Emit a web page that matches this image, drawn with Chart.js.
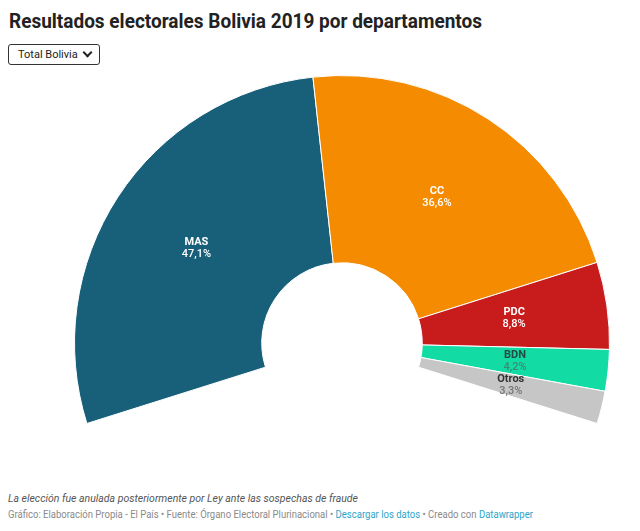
<!DOCTYPE html>
<html>
<head>
<meta charset="utf-8">
<script src="https://cdn.jsdelivr.net/npm/chart.js@4"></script>
<style>
  html, body { margin: 0; padding: 0; background: #fff; }
  body { width: 640px; height: 531px; position: relative; overflow: hidden; font-family: Roboto, "Noto Sans", sans-serif; }
  #title { position: absolute; left: 9px; top: 9px; font-size: 20px; font-weight: bold; color: #222; white-space: nowrap; transform-origin: 0 0; }
  #drop { position: absolute; left: 8px; top: 44px; width: 90px; height: 19px; border: 1.6px solid #333; border-radius: 3px; background: #fff; }
  #drop span { position: absolute; left: 9px; top: 3px; font-size: 11px; color: #222; white-space: nowrap; }
  #drop i { position: absolute; right: 8px; top: 4px; width: 5px; height: 5px; border-right: 2px solid #222; border-bottom: 2px solid #222; transform: rotate(45deg); }
  #chartWrap { position: absolute; left: 74px; top: 75px; width: 536px; height: 349px; }
  .foot { position: absolute; left: 8px; white-space: nowrap; transform-origin: 0 0; }
  #note { top: 492px; font-size: 10.5px; font-style: italic; color: #555; }
  #src { top: 509px; font-size: 10px; color: #8a8a8a; }
  #src a { color: #2ba6cb; text-decoration: none; }
</style>
</head>
<body>
<div id="title">Resultados electorales Bolivia 2019 por departamentos</div>
<div id="drop"><span>Total Bolivia</span><i></i></div>
<div id="chartWrap"><canvas id="c" width="536" height="349"></canvas></div>
<div class="foot" id="note">La elección fue anulada posteriormente por Ley ante las sospechas de fraude</div>
<div class="foot" id="src">Gráfico: Elaboración Propia - El País • Fuente: Órgano Electoral Plurinacional • <a>Descargar los datos</a> • Creado con <a>Datawrapper</a></div>
<script>
const parties = ["MAS", "CC", "PDC", "BDN", "Otros"];
const percents = [47.1, 36.6, 8.8, 4.2, 3.3];
const percentLabels = ["47,1%", "36,6%", "8,8%", "4,2%", "3,3%"];
const colors = ["#185f7a", "#f58b00", "#c81b1c", "#13dba4", "#c6c6c6"];
const nameColors = ["#ffffff", "#ffffff", "#ffffff", "#244a44", "#333333"];
const valueColors = ["#ffffff", "#ffffff", "#ffffff", "#3e8a74", "#777777"];

function fit(id, w) {
  const el = document.getElementById(id);
  const cur = el.getBoundingClientRect().width;
  el.style.transform = 'scaleX(' + (w / cur) + ')';
}
fit('title', 473);
fit('note', 350);
fit('src', 525);

const labelPlugin = {
  id: 'arcLabels',
  afterDatasetsDraw(chart) {
    const ctx = chart.ctx;
    const meta = chart.getDatasetMeta(0);
    meta.data.forEach((arc, i) => {
      const p = arc.getProps(['x', 'y', 'startAngle', 'endAngle', 'innerRadius', 'outerRadius'], true);
      const mid = (p.startAngle + p.endAngle) / 2;
      const r = (p.innerRadius + p.outerRadius) / 2;
      const x = p.x + Math.cos(mid) * r;
      const y = p.y + Math.sin(mid) * r;
      ctx.save();
      ctx.textAlign = 'center';
      ctx.textBaseline = 'middle';
      ctx.font = 'bold 11px Roboto';
      ctx.fillStyle = nameColors[i];
      ctx.fillText(parties[i], x, y - 6);
      ctx.font = '500 11px Roboto';
      ctx.fillStyle = valueColors[i];
      ctx.fillText(percentLabels[i], x, y + 6);
      ctx.restore();
    });
  }
};

new Chart(document.getElementById('c'), {
  type: 'doughnut',
  data: {
    labels: parties,
    datasets: [{
      data: percents,
      backgroundColor: colors,
      borderColor: '#ffffff',
      borderWidth: 1
    }]
  },
  options: {
    responsive: false,
    animation: false,
    rotation: -107.5,
    circumference: 215,
    cutout: '30%',
    layout: { padding: 0 },
    plugins: { legend: { display: false }, tooltip: { enabled: false } }
  },
  plugins: [labelPlugin]
});
</script>
</body>
</html>
